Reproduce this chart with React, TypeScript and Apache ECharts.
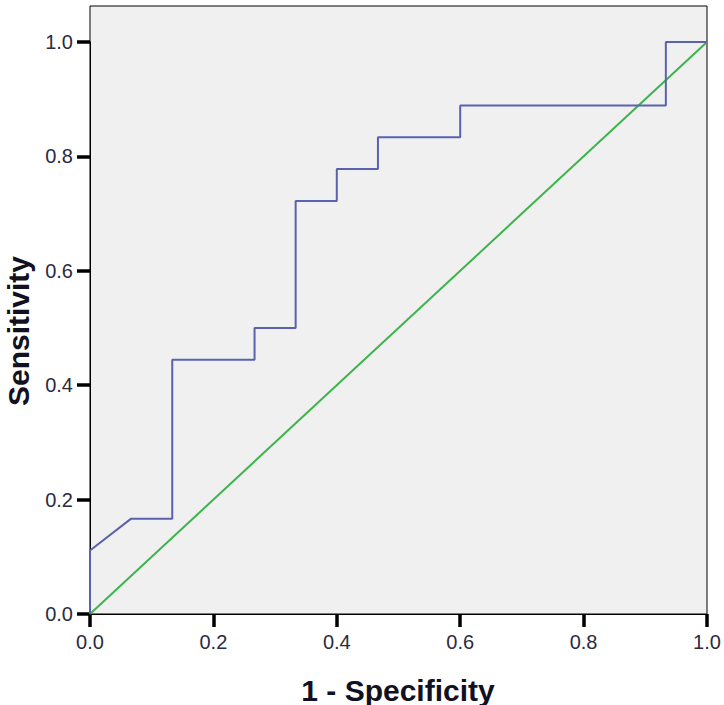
import React, { useEffect, useRef } from "react";
import * as echarts from "echarts";

const rocX = [0, 0, 0.0667, 0.1333, 0.1333, 0.2667, 0.2667, 0.3333, 0.3333, 0.4, 0.4, 0.4667, 0.4667, 0.6, 0.6, 0.9333, 0.9333, 1.0];
const rocY = [0, 0.1111, 0.1667, 0.1667, 0.4444, 0.4444, 0.5, 0.5, 0.7222, 0.7222, 0.7778, 0.7778, 0.8333, 0.8333, 0.8889, 0.8889, 1.0, 1.0];
const refX = [0, 1];
const refY = [0, 1];
const xTitle = "1 - Specificity";
const yTitle = "Sensitivity";

export default function App() {
  const ref = useRef<HTMLDivElement>(null);
  useEffect(() => {
    const chart = echarts.init(ref.current!, null, { renderer: "svg" });
    const font = "Liberation Sans, Arial, sans-serif";
    const labelStyle = {
      color: "#2b2b40",
      fontSize: 20,
      fontFamily: font,
      formatter: (v: number) => v.toFixed(1),
    };
    chart.setOption({
      animation: false,
      grid: [
        {
          left: 90,
          right: 17,
          top: 6,
          bottom: 91,
          show: true,
          backgroundColor: "#f0f0f0",
          borderColor: "#000",
          borderWidth: 1,
          z: 0,
        },
        {
          left: 90,
          right: 17,
          top: 42,
          bottom: 91,
          show: false,
        },
      ],
      xAxis: [
        { type: "value", gridIndex: 0, min: 0, max: 1, show: false, splitLine: { show: false } },
        {
          type: "value",
          gridIndex: 1,
          min: 0,
          max: 1,
          interval: 0.2,
          splitLine: { show: false },
          axisLine: { show: true, onZero: false, lineStyle: { color: "#000", width: 1 } },
          axisTick: { show: true, length: 13, lineStyle: { color: "#000", width: 3.5 } },
          axisLabel: { ...labelStyle, margin: 18 },
        },
      ],
      yAxis: [
        { type: "value", gridIndex: 0, min: 0, max: 1, show: false, splitLine: { show: false } },
        {
          type: "value",
          gridIndex: 1,
          min: 0,
          max: 1,
          interval: 0.2,
          splitLine: { show: false },
          axisLine: { show: true, onZero: false, lineStyle: { color: "#000", width: 1 } },
          axisTick: { show: true, length: 13, lineStyle: { color: "#000", width: 3.5 } },
          axisLabel: { ...labelStyle, margin: 17 },
        },
      ],
      series: [
        {
          type: "line",
          xAxisIndex: 1,
          yAxisIndex: 1,
          data: refX.map((x, i) => [x, refY[i]]),
          showSymbol: false,
          symbol: "none",
          clip: false,
          lineStyle: { color: "#3cb44b", width: 2 },
          z: 2,
        },
        {
          type: "line",
          xAxisIndex: 1,
          yAxisIndex: 1,
          data: rocX.map((x, i) => [x, rocY[i]]),
          showSymbol: false,
          symbol: "none",
          clip: false,
          lineStyle: { color: "#5a62ad", width: 2 },
          z: 3,
        },
      ],
      graphic: [
        {
          type: "text",
          x: 398,
          y: 690,
          style: {
            text: xTitle,
            fontSize: 30,
            fontWeight: "bold",
            fontFamily: font,
            fill: "#111122",
            align: "center",
            verticalAlign: "middle",
          },
        },
        {
          type: "text",
          x: 18,
          y: 331,
          rotation: Math.PI / 2,
          style: {
            text: yTitle,
            fontSize: 30,
            fontWeight: "bold",
            fontFamily: font,
            fill: "#111122",
            align: "center",
            verticalAlign: "middle",
          },
        },
      ],
    });
    return () => chart.dispose();
  }, []);
  return (
    <div
      ref={ref}
      style={{ position: "fixed", left: 0, top: 0, width: 724, height: 705, background: "#fff" }}
    />
  );
}
